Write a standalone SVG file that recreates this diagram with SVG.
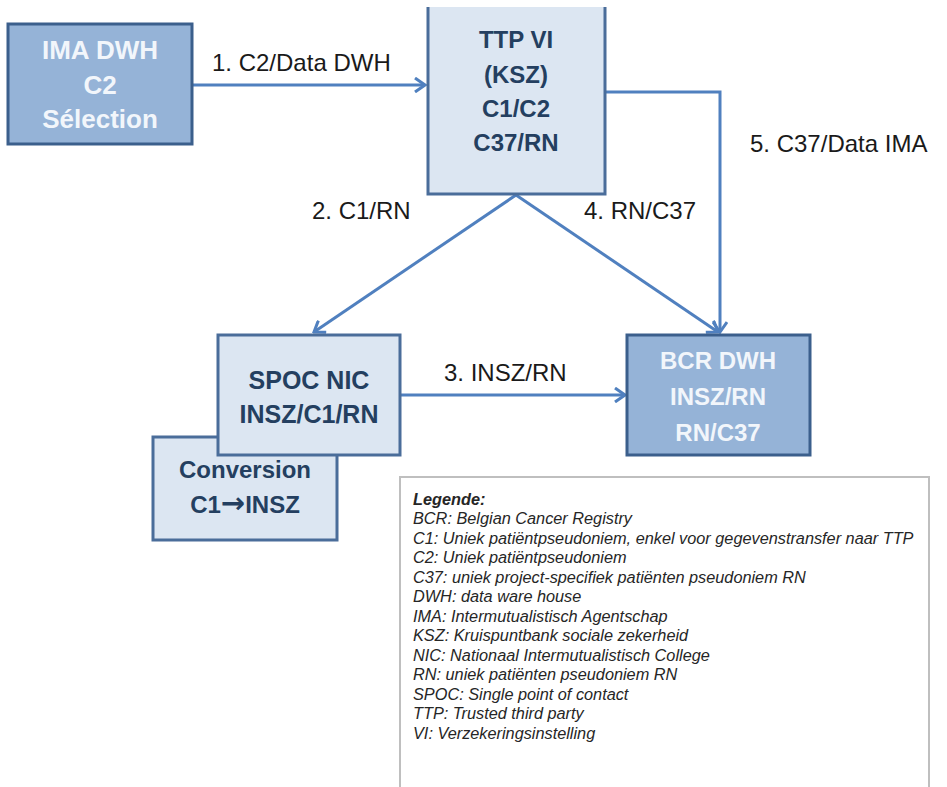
<svg xmlns="http://www.w3.org/2000/svg" width="947" height="787" viewBox="0 0 947 787">
<defs>
<style>
.dark{fill:#95b3d7;stroke:#3b5f8c;stroke-width:3}
.light{fill:#dce6f2;stroke:#4a6d9a;stroke-width:3}
.wt{font-family:"Liberation Sans",Arial,sans-serif;font-weight:bold;fill:#f2f6fb;text-anchor:middle}
.bt{font-family:"Liberation Sans",Arial,sans-serif;font-weight:bold;fill:#243f60;text-anchor:middle}
.lbl{font-family:"Liberation Sans",Arial,sans-serif;font-size:24px;fill:#1a1a1a}
.con{fill:none;stroke:#5080bf;stroke-width:3}
.leg{font-family:"Liberation Sans",Arial,sans-serif;font-style:italic;font-size:16.3px;fill:#262626}
</style>
<marker id="ah" markerUnits="userSpaceOnUse" markerWidth="16" markerHeight="16" viewBox="0 0 16 16" refX="14" refY="8" orient="auto">
<path d="M4,1 L14,8 L4,15" fill="none" stroke="#5080bf" stroke-width="3"/>
</marker>
</defs>
<rect width="947" height="787" fill="#ffffff"/>

<g id="connectors">
<line class="con" x1="192" y1="85" x2="425" y2="85" marker-end="url(#ah)"/>
<polyline class="con" points="605,92 720,92 720,332" marker-end="url(#ah)"/>
<line class="con" x1="516" y1="195" x2="314" y2="332" marker-end="url(#ah)"/>
<line class="con" x1="516" y1="195" x2="718" y2="332" marker-end="url(#ah)"/>
<line class="con" x1="400" y1="395" x2="625" y2="395" marker-end="url(#ah)"/>
<text class="lbl" x="212" y="71">1. C2/Data DWH</text>
<text class="lbl" x="750" y="152">5. C37/Data IMA</text>
<text class="lbl" x="312" y="219">2. C1/RN</text>
<text class="lbl" x="584" y="219">4. RN/C37</text>
<text class="lbl" x="444" y="381">3. INSZ/RN</text>
</g>

<g id="ima">
<rect class="dark" x="8" y="24" width="184" height="120"/>
<text class="wt" font-size="26" x="100" y="59">IMA DWH</text>
<text class="wt" font-size="26" x="100" y="94">C2</text>
<text class="wt" font-size="26" x="100" y="128">Sélection</text>
</g>

<g id="ttp">
<rect x="428" y="7" width="177" height="187" fill="#dce6f2"/>
<path d="M428,7 V194 H605 V7" fill="none" stroke="#4a6d9a" stroke-width="3"/>
<text class="bt" font-size="24" x="516" y="48">TTP VI</text>
<text class="bt" font-size="24" x="516" y="83">(KSZ)</text>
<text class="bt" font-size="24" x="516" y="117">C1/C2</text>
<text class="bt" font-size="24" x="516" y="151">C37/RN</text>
</g>

<g id="conversion">
<rect class="light" x="153" y="437" width="184" height="103"/>
<text class="bt" font-size="24" x="245" y="478">Conversion</text>
<text class="bt" font-size="24" x="245" y="513">C1<tspan font-family="DejaVu Sans,sans-serif" font-size="29">→</tspan>INSZ</text>
</g>

<g id="spoc">
<rect class="light" x="218" y="335" width="182" height="120"/>
<text class="bt" font-size="25" x="309" y="389">SPOC NIC</text>
<text class="bt" font-size="25" x="309" y="423">INSZ/C1/RN</text>
</g>

<g id="bcr">
<rect class="dark" x="627" y="335" width="183" height="120"/>
<text class="wt" font-size="24" x="718" y="369">BCR DWH</text>
<text class="wt" font-size="24" x="718" y="405">INSZ/RN</text>
<text class="wt" font-size="24" x="718" y="441">RN/C37</text>
</g>

<g id="legend">
<rect x="400" y="477" width="529" height="320" fill="#ffffff" stroke="#bfbfbf" stroke-width="2"/>
<text class="leg" x="413" y="505" font-weight="bold">Legende:</text>
<text class="leg" x="413" y="524">BCR: Belgian Cancer Registry</text>
<text class="leg" x="413" y="544">C1: Uniek patiëntpseudoniem, enkel voor gegevenstransfer naar TTP</text>
<text class="leg" x="413" y="563">C2: Uniek patiëntpseudoniem</text>
<text class="leg" x="413" y="583">C37: uniek project-specifiek patiënten pseudoniem RN</text>
<text class="leg" x="413" y="602">DWH: data ware house</text>
<text class="leg" x="413" y="622">IMA: Intermutualistisch Agentschap</text>
<text class="leg" x="413" y="641">KSZ: Kruispuntbank sociale zekerheid</text>
<text class="leg" x="413" y="661">NIC: Nationaal  Intermutualistisch College</text>
<text class="leg" x="413" y="680">RN: uniek patiënten pseudoniem RN</text>
<text class="leg" x="413" y="700">SPOC: Single point of contact</text>
<text class="leg" x="413" y="719">TTP: Trusted third party</text>
<text class="leg" x="413" y="739">VI: Verzekeringsinstelling</text>
</g>
</svg>
